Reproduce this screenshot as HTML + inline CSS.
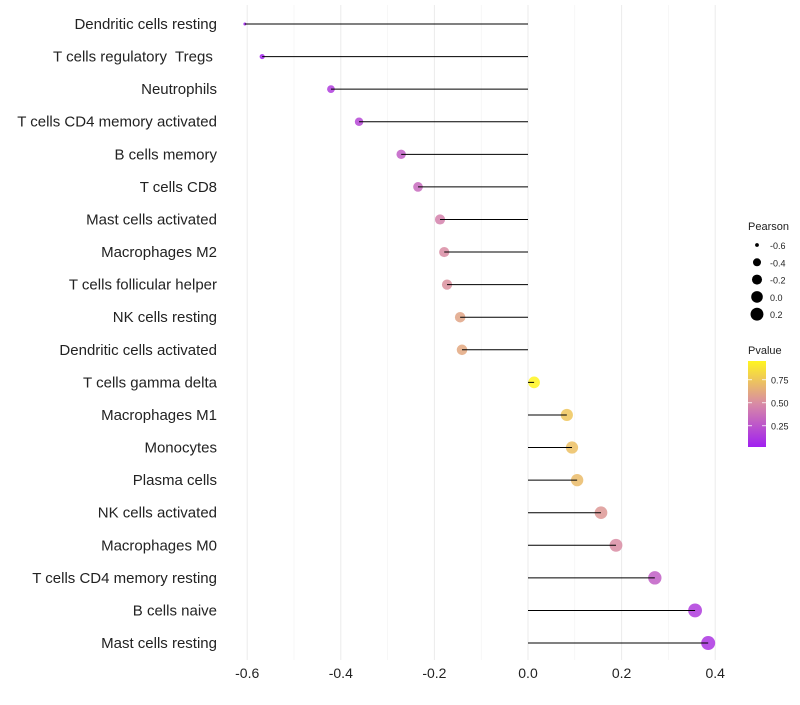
<!DOCTYPE html>
<html><head><meta charset="utf-8"><style>
body{margin:0;background:#fff;font-family:"Liberation Sans",sans-serif}
</style></head><body>
<svg id="chart" width="800" height="700" xmlns="http://www.w3.org/2000/svg" font-family="Liberation Sans, sans-serif"></svg>
<script>
const categories=["Dendritic cells resting","T cells regulatory  Tregs ","Neutrophils","T cells CD4 memory activated","B cells memory","T cells CD8","Mast cells activated","Macrophages M2","T cells follicular helper","NK cells resting","Dendritic cells activated","T cells gamma delta","Macrophages M1","Monocytes","Plasma cells","NK cells activated","Macrophages M0","T cells CD4 memory resting","B cells naive","Mast cells resting"];
const pearson=[-0.605,-0.568,-0.421,-0.361,-0.271,-0.235,-0.188,-0.179,-0.173,-0.145,-0.141,0.013,0.083,0.094,0.105,0.156,0.188,0.271,0.357,0.385];
const pvalue=[0.03,0.05,0.15,0.2,0.3,0.35,0.45,0.5,0.52,0.6,0.62,0.95,0.75,0.72,0.7,0.55,0.5,0.3,0.15,0.12];
const xTicks=[-0.6,-0.4,-0.2,0.0,0.2,0.4];
const xMinor=[-0.5,-0.3,-0.1,0.1,0.3];
const sizeLegend=[-0.6,-0.4,-0.2,0.0,0.2];
const pTicks=[0.25,0.5,0.75];
const svg=document.getElementById('chart');
const NS="http://www.w3.org/2000/svg";
function el(t,a,p){const e=document.createElementNS(NS,t);for(const k in a)e.setAttribute(k,a[k]);(p||svg).appendChild(e);return e;}
const x=v=>528+v*468;
const y=i=>24+i*32.58;
const pmin=-0.605,pmax=0.385;
const rad=v=>{const t=Math.max(0,(v-pmin)/(pmax-pmin));return 1.5+5.5*Math.sqrt(t);};
function lerp(a,b,t){return a.map((c,i)=>Math.round(c+(b[i]-c)*t));}
function col(p){const lo=[160,32,240],mid=[216,138,166],hi=[255,245,32];const t=Math.min(1,Math.max(0,(p-0.03)/0.92));const c=t<0.5?lerp(lo,mid,t*2):lerp(mid,hi,(t-0.5)*2);return `rgb(${c})`;}
xMinor.forEach(v=>{const l=el('line',{x1:x(v),x2:x(v),y1:5,y2:660,stroke:'#f2f2f2','stroke-width':0.6});});
xTicks.forEach(v=>{const l=el('line',{x1:x(v),x2:x(v),y1:5,y2:660,stroke:'#ebebeb','stroke-width':1});
const t=el('text',{x:x(v),y:678,'text-anchor':'middle','font-size':14,fill:'#222'});t.textContent=v.toFixed(1);});
categories.forEach((c,i)=>{
 const t=el('text',{x:217,y:y(i)+5,'text-anchor':'end','font-size':15,fill:'#222'});t.setAttribute('xml:space','preserve');t.style.whiteSpace='pre';t.textContent=c;
 const d=el('circle',{cx:x(pearson[i]),cy:y(i),r:rad(pearson[i]),fill:col(pvalue[i]),'fill-opacity':0.85});
 const l=el('line',{x1:x(0),x2:x(pearson[i]),y1:y(i),y2:y(i),stroke:'#000','stroke-width':1});
});
const g=el('g',{});
const lt=el('text',{x:748,y:230,'font-size':11,fill:'#222'},g);lt.textContent='Pearson';
sizeLegend.forEach((v,i)=>{const cy=245+i*17.3;el('circle',{cx:757,cy:cy,r:rad(v),fill:'#000'},g);const t=el('text',{x:770,y:cy+4,'font-size':9,fill:'#222'},g);t.textContent=v.toFixed(1);});
const g2=el('g',{});
const pt=el('text',{x:748,y:354,'font-size':11,fill:'#222'},g2);pt.textContent='Pvalue';
const defs=el('defs',{},g2);const lg=el('linearGradient',{id:'pg',x1:0,y1:1,x2:0,y2:0},defs);
el('stop',{offset:'0','stop-color':col(0.03)},lg);el('stop',{offset:'0.5','stop-color':col(0.49)},lg);el('stop',{offset:'1','stop-color':col(0.95)},lg);
el('rect',{x:748,y:361,width:18,height:86,fill:'url(#pg)'},g2);
pTicks.forEach(v=>{const yy=446-(v-0.03)/0.25*23;el('line',{x1:748,x2:752,y1:yy,y2:yy,stroke:'#fff','stroke-width':0.8},g2);el('line',{x1:762,x2:766,y1:yy,y2:yy,stroke:'#fff','stroke-width':0.8},g2);const t=el('text',{x:771,y:yy+3.5,'font-size':9,fill:'#222'},g2);t.textContent=v.toFixed(2);});
</script>
</body></html>
